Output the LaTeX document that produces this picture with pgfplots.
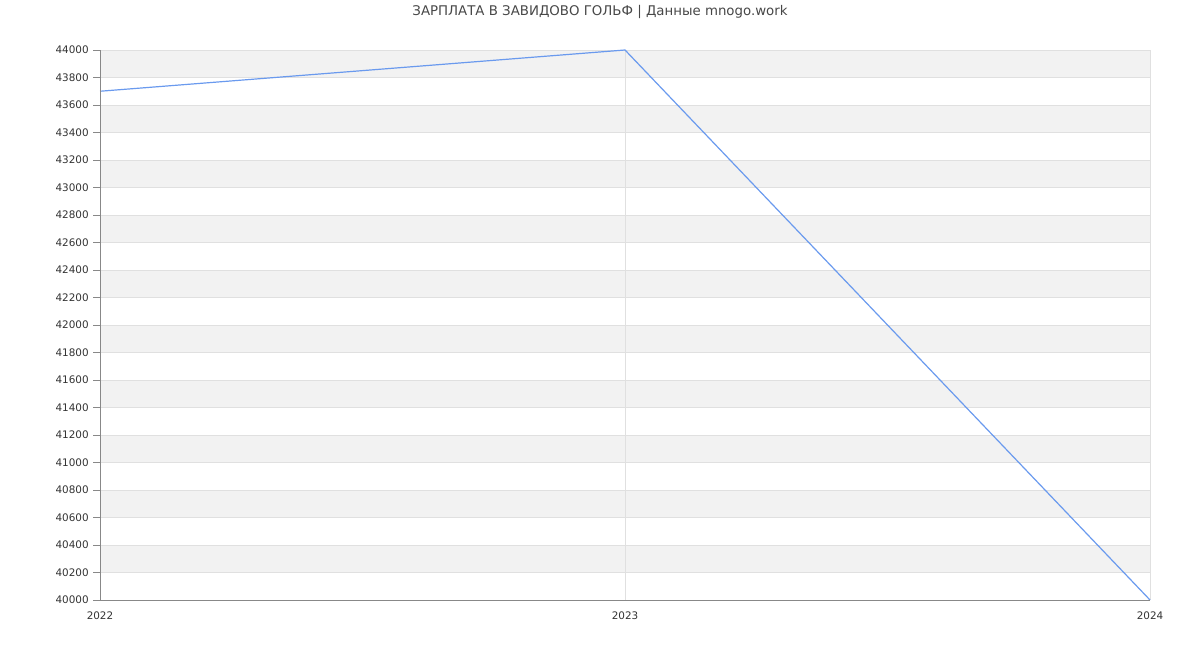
\documentclass[border=0pt]{standalone}
\usepackage{pgfplots}
\pgfplotsset{compat=1.18}
\usepackage{fontspec}
\setmainfont{DejaVu Sans}
\definecolor{band}{HTML}{F2F2F2}
\definecolor{gridc}{HTML}{E0E0E0}
\definecolor{axc}{HTML}{888888}
\definecolor{linec}{HTML}{6A9AEE}
\definecolor{txt}{HTML}{333333}
\begin{document}
\begin{tikzpicture}[x=1pt,y=1pt]
\path[use as bounding box] (0,0) rectangle (900,487.5);
\node[text=txt!90, font=\fontsize{10}{12}\selectfont] at (450,478.5) {ЗАРПЛАТА В ЗАВИДОВО ГОЛЬФ | Данные mnogo.work};
\begin{axis}[
  axis on top,
  at={(75pt,37.5pt)}, anchor=south west,
  scale only axis, width=787.5pt, height=412.5pt,
  xmin=2022, xmax=2024, ymin=40000, ymax=44000,
  xtick={2022,2023,2024},
  xticklabels={2022,2023,2024},
  ytick distance=200,
  scaled y ticks=false,
  /pgf/number format/assume math mode=true,
  /pgf/number format/fixed, /pgf/number format/1000 sep={},
  ticklabel style={font=\fontsize{7.8}{9}\selectfont, text=txt},
  axis x line*=bottom, axis y line*=left,
  axis line style={axc, line width=0.6pt},
  x axis line style={-}, y axis line style={-},
  tick style={axc, line width=0.6pt},
  tick align=outside, major tick length=5pt,
  xtick style={draw=none},
  clip=false,
]
\pgfplotsinvokeforeach{40200,40600,41000,41400,41800,42200,42600,43000,43400,43800}{
  \fill[band] (axis cs:2022,#1) rectangle (axis cs:2024,#1+200);
}
\pgfplotsinvokeforeach{40200,40400,40600,40800,41000,41200,41400,41600,41800,42000,42200,42400,42600,42800,43000,43200,43400,43600,43800,44000}{
  \draw[gridc, line width=0.6pt] (axis cs:2022,#1) -- (axis cs:2024,#1);
}
\draw[gridc, line width=0.6pt] (axis cs:2023,40000) -- (axis cs:2023,44000);
\draw[gridc, line width=0.6pt] (axis cs:2024,40000) -- (axis cs:2024,44000);
\addplot[linec, line width=0.9pt, mark=none] coordinates {
  (2022,43700) (2023,44000) (2024,40000)
};
\end{axis}
\end{tikzpicture}
\end{document}
